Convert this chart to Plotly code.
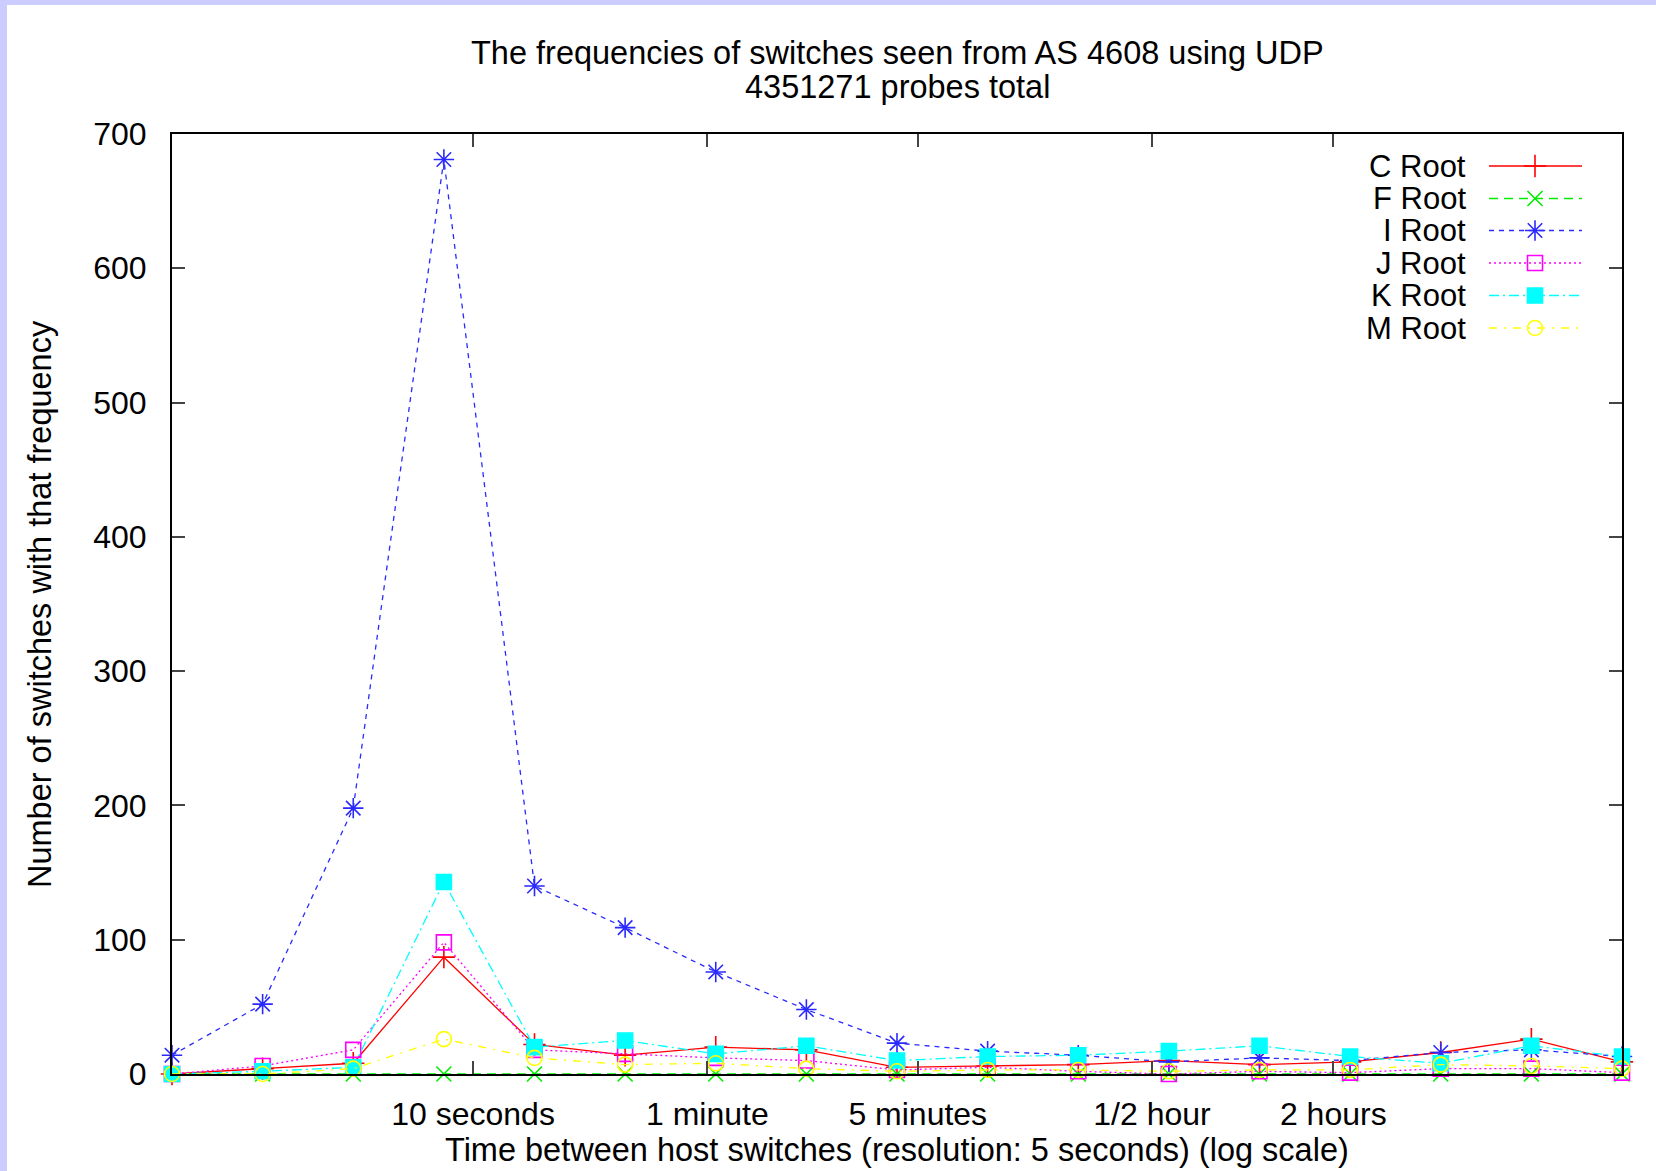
import math
import plotly.graph_objects as go

# ---- data ----
bin_seconds = [1, 2, 4, 8, 16, 32, 64, 128, 256, 512, 1024, 2048, 4096, 8192, 16384, 32768, 65536]
series_names = ["C Root", "F Root", "I Root", "J Root", "K Root", "M Root"]
c_root = [0, 4, 8, 87, 22, 14, 20, 18, 5, 6, 7, 10, 7, 9, 16, 26, 9]
f_root = [0, 0, 0, 0, 0, 0, 0, 0, 0, 0, 0, 0, 0, 0, 0, 0, 0]
i_root = [14, 52, 198, 681, 140, 109, 76, 48, 23, 17, 14, 9, 12, 10, 16, 18, 13]
j_root = [0, 6, 18, 98, 18, 15, 12, 10, 3, 5, 2, 0, 2, 1, 4, 4, 1]
k_root = [0, 2, 5, 143, 20, 25, 15, 21, 10, 13, 14, 17, 21, 13, 8, 21, 13]
m_root = [0, 0, 4, 26, 12, 7, 8, 4, 2, 3, 3, 2, 3, 3, 7, 6, 4]
x_tick_vals = [10, 60, 300, 1800, 7200]
x_tick_text = ["10 seconds", "1 minute", "5 minutes", "1/2 hour", "2 hours"]
y_tick_vals = [0, 100, 200, 300, 400, 500, 600, 700]

title_line1 = "The frequencies of switches seen from AS 4608 using UDP"
title_line2 = "4351271 probes total"
x_title = "Time between host switches (resolution: 5 seconds) (log scale)"
y_title = "Number of switches with that frequency"

# ---- styles ----
W, H = 1656, 1171
L, R, T, B = 172, 1622, 134, 1074  # plot area in pixels
PW, PH = R - L, B - T
FONT = "Liberation Sans, Arial, sans-serif"
FS_TICK = 32
FS_TITLE = 32.5
FS_KEY = 31

styles = [
    dict(color="#ff0000", dash="solid", symbol="cross-thin-open", size=16),
    dict(color="#00ee00", dash="9px,6px", symbol="x-thin-open", size=15),
    dict(color="#2a2aff", dash="5px,5px", symbol="asterisk-open", size=17),
    dict(color="#ff00ff", dash="2px,3px", symbol="square-open", size=15),
    dict(color="#00ffff", dash="10px,4px,2px,4px", symbol="square", size=15),
    dict(color="#ffff00", dash="8px,7px,2px,7px", symbol="circle-open", size=15),
]
all_series = [c_root, f_root, i_root, j_root, k_root, m_root]

def px_x(p):
    return (p - L) / PW

def px_y(p):
    return (B - p) / PH

fig = go.Figure()

for name, vals, st in zip(series_names, all_series, styles):
    fig.add_trace(go.Scatter(
        x=bin_seconds, y=vals, name=name, mode="lines+markers",
        line=dict(color=st["color"], width=1.3, dash=st["dash"]),
        marker=dict(symbol=st["symbol"], size=st["size"], color=st["color"],
                    line=dict(color=st["color"], width=1.6)),
        cliponaxis=False, showlegend=False,
    ))

# ---- custom gnuplot-style key (text right, sample on the right) ----
key_rows_px = [166, 198.5, 230.5, 263, 295.5, 328]
key_text_right = px_x(1468)
key_line_x = [px_x(1489), px_x(1535), px_x(1582)]
annotations = []
for name, st, ypx in zip(series_names, styles, key_rows_px):
    yy = px_y(ypx)
    fig.add_trace(go.Scatter(
        x=[key_line_x[0], key_line_x[2]], y=[yy, yy], xaxis="x2", yaxis="y2",
        mode="lines", line=dict(color=st["color"], width=1.3, dash=st["dash"]),
        showlegend=False, hoverinfo="skip", cliponaxis=False,
    ))
    fig.add_trace(go.Scatter(
        x=[key_line_x[1]], y=[yy], xaxis="x2", yaxis="y2", mode="markers",
        marker=dict(symbol=st["symbol"], size=st["size"], color=st["color"],
                    line=dict(color=st["color"], width=1.6)),
        showlegend=False, hoverinfo="skip", cliponaxis=False,
    ))
    annotations.append(dict(
        text=name, xref="paper", yref="paper", x=key_text_right, y=yy,
        xanchor="right", yanchor="middle", showarrow=False,
        font=dict(family=FONT, size=FS_KEY, color="black"),
    ))

# titles as annotations
annotations += [
    dict(text=title_line1, xref="paper", yref="paper", x=px_x(897), y=px_y(53),
         xanchor="center", yanchor="middle", showarrow=False,
         font=dict(family=FONT, size=FS_TITLE, color="black")),
    dict(text=title_line2, xref="paper", yref="paper", x=px_x(897), y=px_y(87),
         xanchor="center", yanchor="middle", showarrow=False,
         font=dict(family=FONT, size=FS_TITLE, color="black")),
    dict(text=x_title, xref="paper", yref="paper", x=px_x(897), y=px_y(1150),
         xanchor="center", yanchor="middle", showarrow=False,
         font=dict(family=FONT, size=FS_TITLE, color="black")),
    dict(text=y_title, xref="paper", yref="paper", x=px_x(40), y=px_y(604),
         xanchor="center", yanchor="middle", showarrow=False, textangle=-90,
         font=dict(family=FONT, size=FS_TITLE, color="black")),
]

axis_common = dict(
    ticks="inside", ticklen=13, tickwidth=2, tickcolor="#444444",
    showline=True, linecolor="black", linewidth=2, mirror="ticks",
    showgrid=False, zeroline=False,
    tickfont=dict(family=FONT, size=FS_TICK, color="black"),
)

fig.update_layout(
    width=W, height=H,
    margin=dict(l=L, r=W - R, t=T, b=H - B, pad=0),
    paper_bgcolor="white", plot_bgcolor="white",
    xaxis=dict(type="log", range=[0, math.log10(bin_seconds[-1])],
               tickmode="array", tickvals=x_tick_vals, ticktext=x_tick_text,
               ticklabelstandoff=11, **axis_common),
    yaxis=dict(range=[0, 700], tickmode="array", tickvals=y_tick_vals,
               ticklabelstandoff=17, **axis_common),
    xaxis2=dict(overlaying="x", range=[0, 1], visible=False),
    yaxis2=dict(overlaying="y", range=[0, 1], visible=False),
    annotations=annotations,
    shapes=[
        dict(type="rect", xref="paper", yref="paper", x0=px_x(-5), x1=px_x(7),
             y0=px_y(H + 10), y1=px_y(-5), fillcolor="#ccccff", line=dict(width=0),
             layer="above"),
        dict(type="rect", xref="paper", yref="paper", x0=px_x(-5), x1=px_x(W + 10),
             y0=px_y(5), y1=px_y(-5), fillcolor="#ccccff", line=dict(width=0),
             layer="above"),
    ],
    showlegend=False,
)

fig.write_html("out.html", config={"displayModeBar": False},
               post_script="document.body.style.margin='0';document.body.style.overflow='hidden';")
